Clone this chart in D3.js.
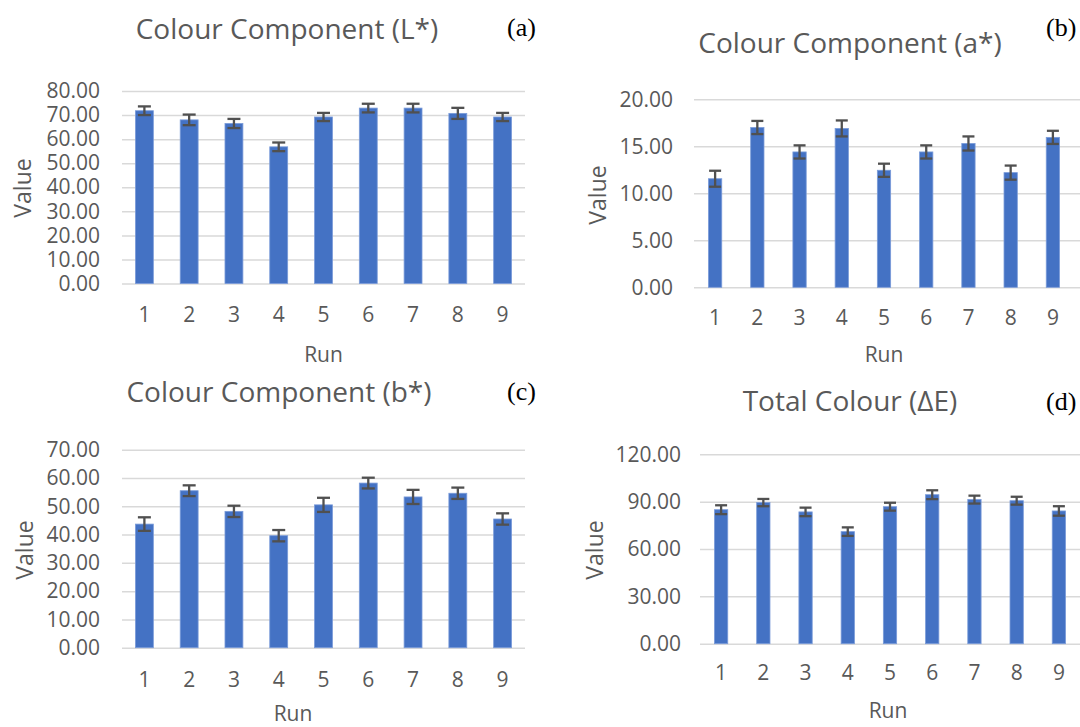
<!DOCTYPE html>
<html>
<head>
<meta charset="utf-8">
<script src="https://cdn.jsdelivr.net/npm/d3@7"></script>
<style>
  html, body { margin: 0; padding: 0; background: #fff; }
  svg { display: block; }
</style>
</head>
<body>
<svg id="chart" width="1080" height="727"></svg>
<script>
// ---- data ----
const runs = ["1", "2", "3", "4", "5", "6", "7", "8", "9"];

const lValues = [71.8, 68.0, 66.5, 56.8, 69.2, 72.9, 72.9, 70.7, 69.2];
const lErrors = [1.8, 2.2, 1.9, 1.8, 1.7, 1.8, 1.8, 2.3, 1.7];
const lTicks  = [0, 10, 20, 30, 40, 50, 60, 70, 80];

const aValues = [11.55, 17.0, 14.4, 16.9, 12.45, 14.4, 15.3, 12.2, 15.95];
const aErrors = [0.85, 0.7, 0.7, 0.85, 0.7, 0.7, 0.75, 0.75, 0.7];
const aTicks  = [0, 5, 10, 15, 20];

const bValues = [43.7, 55.5, 48.2, 39.6, 50.5, 58.2, 53.3, 54.6, 45.5];
const bErrors = [2.4, 1.9, 2.0, 2.0, 2.5, 1.9, 2.5, 2.0, 2.0];
const bTicks  = [0, 10, 20, 30, 40, 50, 60, 70];

const eValues = [84.9, 89.4, 83.5, 71.0, 86.8, 94.4, 91.3, 90.6, 84.1];
const eErrors = [2.8, 2.3, 2.7, 2.7, 2.5, 2.8, 2.5, 2.5, 3.0];
const eTicks  = [0, 30, 60, 90, 120];

const titles = ["Colour Component (L*)", "Colour Component (a*)", "Colour Component (b*)", "Total Colour (\u0394E)"];
const panelTags = ["(a)", "(b)", "(c)", "(d)"];
const xTitle = "Run";
const yTitle = "Value";

// ---- layout (positions only) ----
const panels = [
  { values: lValues, errors: lErrors, ticks: lTicks, title: titles[0], tag: panelTags[0],
    x0: 122, x1: 525, gridEnd: 525, y0: 283.5, y1: 91, barFrac: 0.4, cap: 13,
    tickX: 100, xLabY: 322, titleX: 287, titleY: 39, tagX: 507, tagY: 36,
    runX: 323.5, runY: 362, valX: 31, valY: 188 },
  { values: aValues, errors: aErrors, ticks: aTicks, title: titles[1], tag: panelTags[1],
    x0: 694, x1: 1074, gridEnd: 1080, y0: 287.3, y1: 99.3, barFrac: 0.315, cap: 12,
    tickX: 673, xLabY: 325, titleX: 850, titleY: 53, tagX: 1046, tagY: 36,
    runX: 884, runY: 362, valX: 606, valY: 195 },
  { values: bValues, errors: bErrors, ticks: bTicks, title: titles[2], tag: panelTags[2],
    x0: 122, x1: 525, gridEnd: 525, y0: 647.7, y1: 449.7, barFrac: 0.4, cap: 13,
    tickX: 100, xLabY: 687, titleX: 279, titleY: 402, tagX: 507, tagY: 400,
    runX: 293, runY: 721, valX: 33, valY: 550 },
  { values: eValues, errors: eErrors, ticks: eTicks, title: titles[3], tag: panelTags[3],
    x0: 700, x1: 1080, gridEnd: 1080, y0: 643.7, y1: 454.3, barFrac: 0.315, cap: 12,
    tickX: 681, xLabY: 680, titleX: 850, titleY: 411, tagX: 1046, tagY: 410,
    runX: 888, runY: 718, valX: 603, valY: 550 }
];

const FONT = "'Open Sans', 'Noto Sans', sans-serif";
const TEXT = "#595959";
const BAR = "#4472C4";
const GRID = "#D9D9D9";
const ERR = "#505050";

const svg = d3.select("#chart");

panels.forEach(p => {
  const g = svg.append("g");
  const inner = 1 - p.barFrac;
  const x = d3.scaleBand().domain(runs).range([p.x0, p.x1])
    .paddingInner(inner).paddingOuter(inner / 2);
  const y = d3.scaleLinear().domain([0, d3.max(p.ticks)]).range([p.y0, p.y1]);

  // gridlines
  const grid = g.append("g").attr("transform", `translate(${p.x0},0)`)
    .call(d3.axisLeft(y).tickValues(p.ticks).tickSize(-(p.gridEnd - p.x0)).tickFormat(""));
  grid.select(".domain").remove();
  grid.selectAll(".tick line").attr("stroke", GRID).attr("stroke-width", 1.5);

  // y tick labels
  const ya = g.append("g").attr("transform", `translate(${p.tickX},0)`)
    .call(d3.axisLeft(y).tickValues(p.ticks).tickSize(0).tickPadding(0).tickFormat(d3.format(".2f")));
  ya.select(".domain").remove();
  ya.selectAll("text").attr("fill", TEXT).style("font-family", FONT).style("font-size", "21px");

  // x tick labels
  const xa = g.append("g").attr("transform", `translate(0,${p.xLabY})`)
    .call(d3.axisBottom(x).tickSize(0).tickPadding(0));
  xa.select(".domain").remove();
  xa.selectAll("text").attr("fill", TEXT).attr("dy", 0).attr("y", 0)
    .style("font-family", FONT).style("font-size", "21px");

  // bars
  g.selectAll("rect.bar").data(p.values).join("rect")
    .attr("class", "bar")
    .attr("x", (d, i) => x(runs[i]))
    .attr("width", x.bandwidth())
    .attr("y", d => y(d))
    .attr("height", d => y(0) - y(d))
    .attr("fill", BAR)
    .attr("stroke", "#7a9bd9").attr("stroke-width", 0.8);

  // error bars
  const eb = g.selectAll("g.err").data(p.values).join("g").attr("class", "err");
  eb.append("line")
    .attr("x1", (d, i) => x(runs[i]) + x.bandwidth() / 2)
    .attr("x2", (d, i) => x(runs[i]) + x.bandwidth() / 2)
    .attr("y1", (d, i) => y(d + p.errors[i]))
    .attr("y2", (d, i) => y(d - p.errors[i]));
  eb.append("line")
    .attr("x1", (d, i) => x(runs[i]) + x.bandwidth() / 2 - p.cap / 2)
    .attr("x2", (d, i) => x(runs[i]) + x.bandwidth() / 2 + p.cap / 2)
    .attr("y1", (d, i) => y(d + p.errors[i]))
    .attr("y2", (d, i) => y(d + p.errors[i]));
  eb.append("line")
    .attr("x1", (d, i) => x(runs[i]) + x.bandwidth() / 2 - p.cap / 2)
    .attr("x2", (d, i) => x(runs[i]) + x.bandwidth() / 2 + p.cap / 2)
    .attr("y1", (d, i) => y(d - p.errors[i]))
    .attr("y2", (d, i) => y(d - p.errors[i]));
  eb.selectAll("line").attr("stroke", ERR).attr("stroke-width", 2.3);

  // titles
  g.append("text").attr("x", p.titleX).attr("y", p.titleY)
    .attr("text-anchor", "middle").attr("fill", TEXT)
    .style("font-family", FONT).style("font-size", "28px").text(p.title);

  g.append("text").attr("x", p.tagX).attr("y", p.tagY)
    .attr("fill", "#000")
    .style("font-family", "'Liberation Serif', 'Times New Roman', serif")
    .style("font-size", "26px").text(p.tag);

  g.append("text").attr("x", p.runX).attr("y", p.runY)
    .attr("text-anchor", "middle").attr("fill", TEXT)
    .style("font-family", FONT).style("font-size", "21px").text(xTitle);

  g.append("text").attr("transform", `translate(${p.valX},${p.valY}) rotate(-90)`)
    .attr("text-anchor", "middle").attr("fill", TEXT)
    .style("font-family", FONT).style("font-size", "23px").text(yTitle);
});
</script>
</body>
</html>
